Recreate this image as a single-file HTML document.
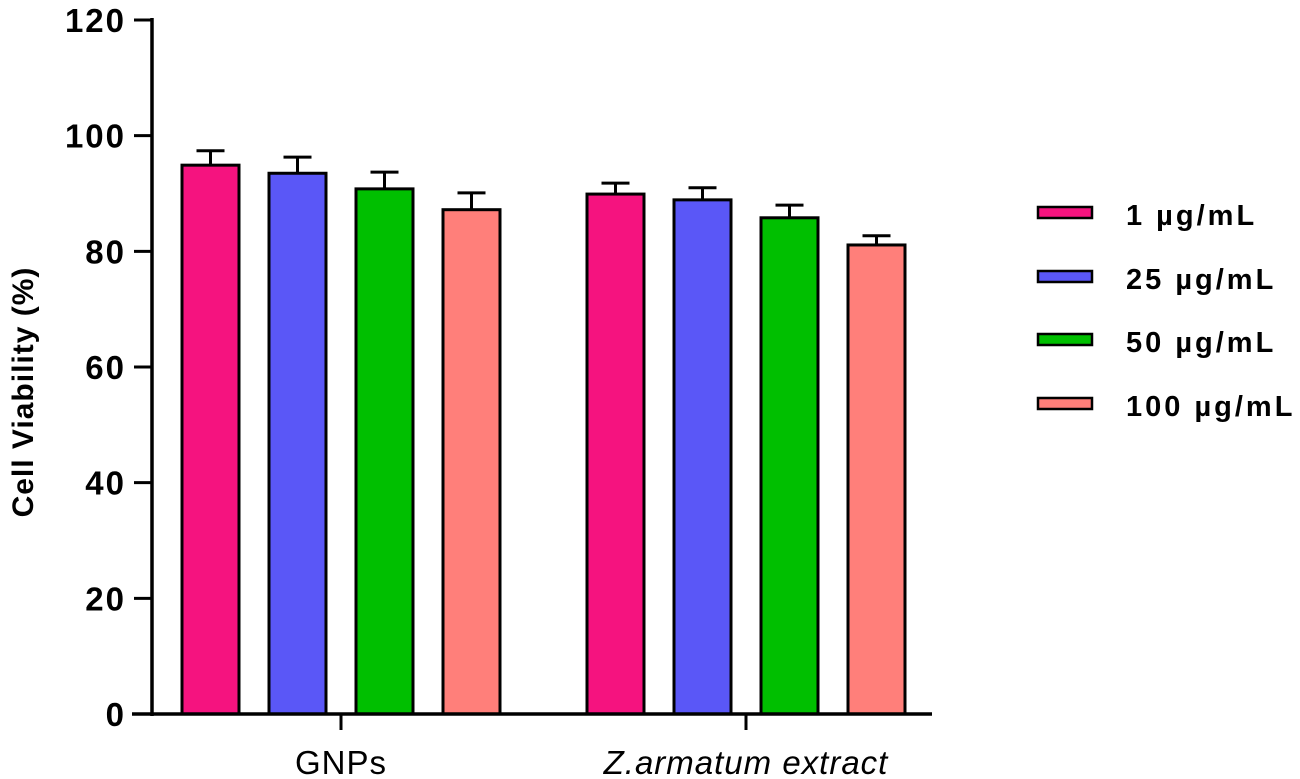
<!DOCTYPE html>
<html><head><meta charset="utf-8"><style>
html,body{margin:0;padding:0;background:#fff;}
svg{display:block;font-family:"Liberation Sans",Arial,sans-serif;}
</style></head><body>
<svg id="chart" width="1300" height="779" viewBox="0 0 1300 779" xmlns="http://www.w3.org/2000/svg"></svg>
<script>
const groups = ["GNPs", "Z.armatum extract"];
const series = ["1 µg/mL", "25 µg/mL", "50 µg/mL", "100 µg/mL"];
const colors = ["#f5137f", "#5a57f7", "#00bf00", "#ff7f7a"];
const valuesGNPs = [94.9, 93.5, 90.8, 87.2];
const errorsGNPs = [2.5, 2.8, 2.9, 2.9];
const valuesExtract = [89.9, 88.9, 85.8, 81.1];
const errorsExtract = [1.9, 2.1, 2.2, 1.6];
const yTicks = [0, 20, 40, 60, 80, 100, 120];

const NS = "http://www.w3.org/2000/svg";
const svg = document.getElementById("chart");
function mk(tag, attrs, parent) {
  const e = document.createElementNS(NS, tag);
  for (const k in attrs) e.setAttribute(k, attrs[k]);
  (parent || svg).appendChild(e);
  return e;
}
const y0 = 714, pxPerUnit = (714 - 20) / 120;
const yScale = v => y0 - v * pxPerUnit;
const groupStart = [182, 587];
const barW = 57, barStep = 87;
const xBar = (g, s) => groupStart[g] + s * barStep;

const data = [valuesGNPs, valuesExtract];
const errs = [errorsGNPs, errorsExtract];

data.forEach((vals, g) => {
  vals.forEach((v, s) => {
    const x = xBar(g, s);
    const e = errs[g][s];
    const el = mk("line", {x1: x + barW/2, x2: x + barW/2, y1: yScale(v), y2: yScale(v + e), stroke: "#000", "stroke-width": 3});
    
    
    const cap = mk("line", {x1: x + barW/2 - 14, x2: x + barW/2 + 14, y1: yScale(v + e), y2: yScale(v + e), stroke: "#000", "stroke-width": 3});
    
    
    const r = mk("rect", {x: x, y: yScale(v), width: barW, height: y0 - yScale(v), fill: colors[s], stroke: "#000", "stroke-width": 3});
    
    
  });
});

const ya = mk("line", {x1: 152, x2: 152, y1: 18, y2: 716, stroke: "#000", "stroke-width": 3.5});


const xa = mk("line", {x1: 132, x2: 932, y1: y0, y2: y0, stroke: "#000", "stroke-width": 3.5});



yTicks.forEach(t => {
  const y = yScale(t);
  const tk = mk("line", {x1: 134, x2: 152, y1: y, y2: y, stroke: "#000", "stroke-width": 3});
  
  
  const tx = mk("text", {x: 126, y: y + 12, "text-anchor": "end", "font-size": 33, "font-weight": "bold", "letter-spacing": 2});
  tx.textContent = t;
  
  
});

groups.forEach((name, g) => {
  const cx = (xBar(g, 0) + xBar(g, 3) + barW) / 2;
  const tk = mk("line", {x1: cx, x2: cx, y1: y0, y2: y0 + 16, stroke: "#000", "stroke-width": 3});
  
  
  const tx = mk("text", {x: cx, y: 774, "text-anchor": "middle", "font-size": 33, "font-style": g === 1 ? "italic" : "normal", "letter-spacing": 1});
  tx.textContent = name;
  
  
});

const yt = mk("text", {x: 0, y: 0, transform: "translate(33,392) rotate(-90)", "text-anchor": "middle", "font-size": 30, "font-weight": "bold", "letter-spacing": 1});
yt.textContent = "Cell Viability (%)";



const legendY = [213, 277, 340, 404];
series.forEach((s, i) => {
  const g = mk("g", {});
  
  
  mk("rect", {x: 1038, y: legendY[i] - 6, width: 54, height: 11, fill: colors[i], stroke: "#000", "stroke-width": 2.5}, g);
  const tx = mk("text", {x: 1126, y: legendY[i] + 12, "font-size": 29, "font-weight": "bold", "letter-spacing": 3}, g);
  tx.textContent = s;
});
</script>
</body></html>
